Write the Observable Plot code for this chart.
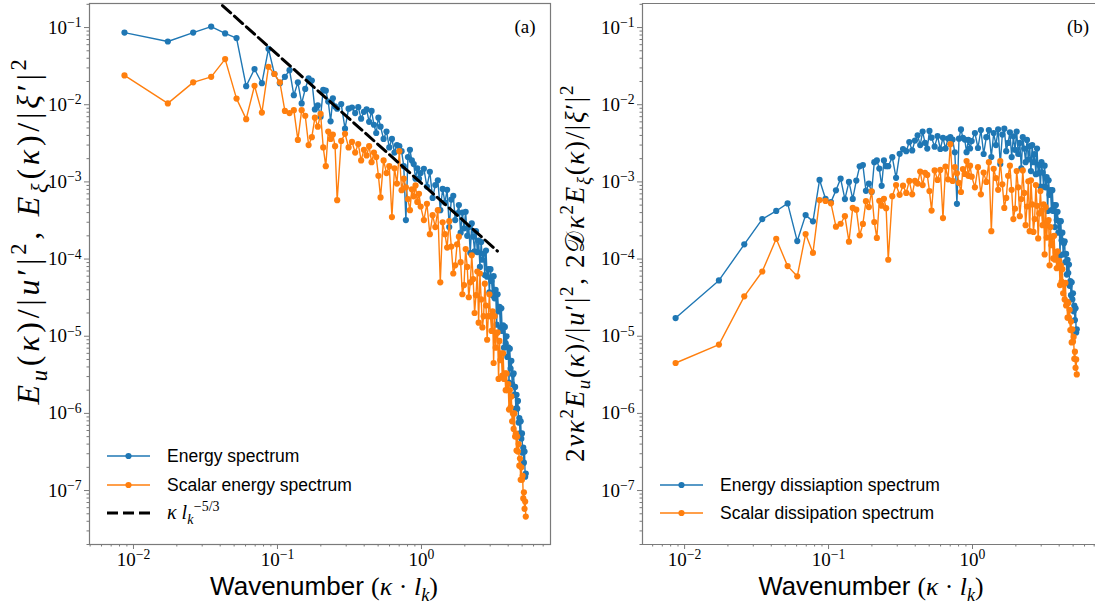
<!DOCTYPE html>
<html>
<head>
<meta charset="utf-8">
<script src="https://cdn.jsdelivr.net/npm/d3@7"></script>
<script src="https://cdn.jsdelivr.net/npm/@observablehq/plot@0.6"></script>
<style>
  html, body { margin: 0; padding: 0; background: #fff; }
  #wrap { position: relative; width: 1095px; height: 606px; overflow: hidden; background: #fff; }
  #wrap svg { position: absolute; top: 0; overflow: visible; }
</style>
</head>
<body>
<div id="wrap"></div>
<script>
// ---------------- data ----------------
const dk = 0.00866; // wavenumber step (kappa * l_k per shell)
const shellIndex = [
  1,2,3,4,5,6,7,8,9,10,11,12,13,14,15,16,17,18,19,20,21,22,23,24,25,26,27,28,29,30,
  32,34,36,38,40,42,44,46,48,50,52,54,56,58,60,
  63,66,69,72,75,78,81,84,87,90,93,96,99,102,105,108,111,114,
  120,126,132,138,144,150,156,162,168,174,180,186,192,198,204,210,216,222,228,234,
  240,246,252,258,264,270,276,282,288,294,300,306,312,318,324,330,336,342,348,354,
  360,366,372,378,384,390,396,402,408,414,420,426,432,438,444,450,456,462,468,474,
  480,486,492,498,504,510,516,522,528,534,540,546,552,558,564,570,576,582,588,594,
  600,606,612
];
const energySpectrum = [
  0.086,0.066,0.086,0.103,0.084,0.073,0.0174,0.029,0.019,0.053,0.025,0.019,0.023,0.028,0.0133,0.0195,0.0104,0.016,0.022,0.0206,0.0087,0.0098,0.007,0.0156,0.0152,0.011,0.0061,0.0121,0.0095,0.0089,
  0.0102,0.0049,0.0089,0.0092,0.0078,0.0093,0.0066,0.0081,0.0087,0.006,0.0083,0.0055,0.0043,0.0068,0.0052,
  0.0036,0.0045,0.0028,0.0036,0.0024,0.0030,0.0029,0.0025,0.0016,0.00032,0.0021,0.0026,0.0019,0.0017,0.0011,0.0015,0.0011,0.0013,
  1.48e-3,8.7e-4,1.35e-3,6.2e-4,9.1e-4,1.05e-3,4.3e-4,8.1e-4,5.4e-4,7.9e-4,
  2.6e-4,5.9e-4,6.6e-4,3.2e-4,3.9e-4,5.0e-4,2.2e-4,4.0e-4,2.5e-4,4.1e-4,
  2.0e-4,2.6e-4,1.2e-4,2.9e-4,1.95e-4,1.26e-4,2.3e-4,1.23e-4,1.74e-4,7.9e-5,
  1.66e-4,9.8e-5,1.17e-4,6.2e-5,1.29e-4,5.9e-5,7.4e-5,3.7e-5,7.4e-5,5.2e-5,
  3.4e-5,6.0e-5,3.1e-5,4.0e-5,1.41e-5,3.5e-5,2.1e-5,2.4e-5,1.29e-5,2.3e-5,
  1.17e-5,1.38e-5,7.1e-6,1.32e-5,8.1e-6,1.0e-5,5.4e-6,7.2e-6,2.5e-6,6.9e-6,
  3.8e-6,4.8e-6,2.4e-6,3.2e-6,3.3e-6,1.74e-6,2.2e-6,1.15e-6,1.74e-6,1.15e-6,
  1.45e-6,7.6e-7,8.7e-7,5.5e-7,7.9e-7,4.7e-7,5.5e-7,3.1e-7,3.6e-7,2.3e-7,
  3.2e-7,1.51e-7,1.66e-7
];
const scalarSpectrum = [
  0.024,0.0104,0.0195,0.023,0.039,0.012,0.0065,0.0176,0.0079,0.031,0.025,0.0195,0.0083,0.0078,0.0085,0.0035,0.0085,0.0072,0.003,0.0038,0.0068,0.0052,0.0076,0.0028,0.0016,0.0045,0.0036,0.0041,0.0029,0.00058,
  0.0034,0.0042,0.0028,0.0033,0.0024,0.0031,0.0019,0.0026,0.0022,0.0029,0.0018,0.0024,0.0021,0.0012,0.00063,
  0.0019,0.0013,0.0016,0.00035,0.0015,0.00095,0.0025,0.00078,0.0011,0.00085,0.0006,0.00043,0.0008,0.00065,0.0009,0.00055,0.0007,0.00048,
  3.2e-4,5.2e-4,2.1e-4,3.7e-4,2.6e-4,4.3e-4,5.0e-5,3.0e-4,2.1e-4,1.41e-4,
  3.1e-4,1.45e-4,6.5e-5,8.3e-5,1.55e-4,1.95e-4,9.1e-5,3.5e-5,4.6e-5,1.35e-4,
  7.9e-5,3.2e-5,5.0e-5,1.12e-4,5.5e-5,2.0e-5,3.4e-5,6.9e-5,1.5e-5,6.5e-5,
  3.0e-5,1.3e-5,1.82e-5,4.8e-5,2.5e-5,9.0e-6,1.82e-5,3.5e-5,1.82e-5,1.17e-5,
  2.1e-5,4.5e-6,1.82e-5,7.1e-6,1.1e-5,1.12e-5,2.8e-6,8.7e-6,4.9e-6,6.0e-6,
  3.1e-6,6.0e-6,2.8e-6,3.3e-6,2.0e-6,3.3e-6,2.0e-6,2.4e-6,1.12e-6,2.0e-6,
  1.2e-6,1.66e-6,7.9e-7,1.0e-6,6.3e-7,1.0e-6,5.0e-7,5.5e-7,3.3e-7,5.0e-7,
  3.2e-7,4.0e-7,2.1e-7,2.6e-7,1.38e-7,2.0e-7,1.38e-7,1.55e-7,7.9e-8,9.5e-8,
  5.8e-8,7.2e-8,4.6e-8
];
const energyDissipation = [
  1.72e-5,5.28e-5,1.55e-4,3.3e-4,4.2e-4,5.26e-4,1.71e-4,3.71e-4,3.08e-4,1.06e-3,6.05e-4,5.47e-4,7.77e-4,1.1e-3,5.99e-4,9.98e-4,6.01e-4,1.04e-3,1.59e-3,1.65e-3,7.67e-4,9.49e-4,7.41e-4,1.8e-3,1.9e-3,1.49e-3,8.89e-4,1.9e-3,1.6e-3,1.6e-3,
  2.09e-3,1.13e-3,2.31e-3,2.66e-3,2.5e-3,3.28e-3,2.56e-3,3.43e-3,4.01e-3,3.0e-3,4.49e-3,3.21e-3,2.7e-3,4.58e-3,3.74e-3,
  2.86e-3,3.92e-3,2.67e-3,3.73e-3,2.7e-3,3.65e-3,3.81e-3,3.53e-3,2.42e-3,5.2e-4,3.63e-3,4.79e-3,3.72e-3,3.54e-3,2.43e-3,3.5e-3,2.71e-3,3.38e-3,
  4.3e-3,2.75e-3,4.7e-3,2.3e-3,3.8e-3,4.7e-3,2.1e-3,4.3e-3,3.0e-3,4.8e-3,
  1.7e-3,4.1e-3,4.9e-3,2.5e-3,3.2e-3,4.4e-3,2.1e-3,3.9e-3,2.6e-3,4.5e-3,
  2.3e-3,3.2e-3,1.5e-3,3.8e-3,2.7e-3,1.8e-3,3.5e-3,1.95e-3,2.9e-3,1.38e-3,
  3.0e-3,1.8e-3,2.3e-3,1.26e-3,2.7e-3,1.29e-3,1.66e-3,8.7e-4,1.8e-3,1.32e-3,
  8.7e-4,1.62e-3,8.5e-4,1.15e-3,4.2e-4,1.05e-3,6.8e-4,7.8e-4,4.3e-4,7.8e-4,
  4.2e-4,5.0e-4,2.6e-4,5.0e-4,3.2e-4,4.1e-4,2.2e-4,3.1e-4,1.1e-4,3.1e-4,
  1.74e-4,2.2e-4,1.15e-4,1.6e-4,1.7e-4,9.1e-5,1.17e-4,6.3e-5,9.8e-5,6.6e-5,
  8.5e-5,4.5e-5,5.2e-5,3.4e-5,5.0e-5,3.0e-5,3.6e-5,2.1e-5,2.5e-5,1.62e-5,
  2.3e-5,1.12e-5,1.23e-5
];
const scalarDissipation = [
  4.5e-6,7.8e-6,3.29e-5,6.9e-5,1.83e-4,8.1e-5,5.97e-5,2.11e-4,1.2e-4,5.81e-4,5.67e-4,5.27e-4,2.63e-4,2.87e-4,3.59e-4,1.68e-4,4.6e-4,4.37e-4,2.03e-4,2.85e-4,5.62e-4,4.72e-4,7.54e-4,3.02e-4,1.88e-4,5.7e-4,4.92e-4,6.03e-4,4.57e-4,9.8e-5,
  6.53e-4,9.1e-4,6.8e-4,8.93e-4,7.2e-4,1.03e-3,6.9e-4,1.03e-3,9.5e-4,1.36e-3,9.1e-4,1.31e-3,1.23e-3,7.6e-4,4.25e-4,
  1.41e-3,1.06e-3,1.43e-3,3.4e-4,1.58e-3,1.08e-3,3.08e-3,1.03e-3,1.56e-3,1.29e-3,9.7e-4,7.4e-4,1.47e-3,1.27e-3,1.86e-3,1.2e-3,1.62e-3,1.17e-3,
  8.5e-4,1.55e-3,6.9e-4,1.32e-3,1.0e-3,1.8e-3,2.3e-4,1.48e-3,1.12e-3,7.9e-4,
  1.86e-3,9.3e-4,4.6e-4,6.2e-4,1.2e-3,1.62e-3,7.9e-4,3.3e-4,4.5e-4,1.38e-3,
  8.5e-4,3.6e-4,6.0e-4,1.41e-3,7.2e-4,2.75e-4,4.8e-4,1.02e-3,2.3e-4,1.05e-3,
  5.1e-4,2.25e-4,3.3e-4,9.1e-4,4.9e-4,1.85e-4,3.9e-4,7.6e-4,4.2e-4,2.75e-4,
  5.1e-4,1.15e-4,4.7e-4,1.9e-4,3.0e-4,3.2e-4,8.3e-5,2.6e-4,1.51e-4,1.95e-4,
  1.02e-4,2.0e-4,9.8e-5,1.2e-4,7.6e-5,1.26e-4,7.9e-5,9.5e-5,4.6e-5,8.3e-5,
  5.1e-5,7.4e-5,3.6e-5,4.7e-5,3.0e-5,4.9e-5,2.5e-5,2.8e-5,1.74e-5,2.7e-5,
  1.74e-5,2.2e-5,1.2e-5,1.55e-5,8.3e-6,1.23e-5,8.5e-6,9.8e-6,5.1e-6,6.3e-6,
  3.9e-6,5.0e-6,3.2e-6
];
// reference -5/3 power law (endpoints in kappa, and its level at kappa = 1)
const refKappa = [0.0415, 3.37];
const refLevel = 9.6e-4;
const refExponent = -5 / 3;

const leftLegend = ["Energy spectrum", "Scalar energy spectrum"];
const rightLegend = ["Energy dissiaption spectrum", "Scalar dissipation spectrum"];
const panelTags = ["(a)", "(b)"];
const majorX = [0.01, 0.1, 1];
const majorY = [1e-7, 1e-6, 1e-5, 1e-4, 1e-3, 1e-2, 1e-1];

// ---------------- helpers ----------------
const BLUE = "#1f77b4", ORANGE = "#ff7f0e", FRAME = "#7a7a7a";
const SERIF = "'Liberation Serif', 'DejaVu Serif', serif";
const SANS = "'Liberation Sans', 'DejaVu Sans', sans-serif";

const kappa = shellIndex.map(n => n * dk);
const toRows = vals => kappa.map((k, i) => ({k, v: vals[i]}));
const refRows = refKappa.map(k => ({k, v: refLevel * Math.pow(k, refExponent)}));

function minorTicks(lo, hi, e0, e1) {
  const out = [];
  for (let e = e0; e <= e1; e++) for (let m = 2; m <= 9; m++) {
    const v = m * Math.pow(10, e);
    if (v >= lo && v <= hi) out.push(v);
  }
  return out;
}
const fmt = d => "10^" + Math.round(Math.log10(d));

function axes(xDom, yDom) {
  return [
    Plot.axisX(minorTicks(xDom[0], xDom[1], -3, 1), {tickSize: 2.5, stroke: FRAME, fill: "none", label: null}),
    Plot.axisX(majorX, {tickSize: 5, tickPadding: 3, stroke: FRAME, tickFormat: fmt, label: null, fill: "black"}),
    Plot.axisY(minorTicks(yDom[0], yDom[1], -9, -1), {tickSize: 2.5, stroke: FRAME, fill: "none", label: null}),
    Plot.axisY(majorY, {tickSize: 5, tickPadding: 3, stroke: FRAME, tickFormat: fmt, label: null, fill: "black"})
  ];
}
function series(vals, color) {
  const rows = toRows(vals);
  return [
    Plot.line(rows, {x: "k", y: "v", stroke: color, strokeWidth: 1.4}),
    Plot.dot(rows, {x: "k", y: "v", fill: color, r: 3.1})
  ];
}
const styleObj = {background: "transparent", fontFamily: SERIF, fontSize: "19px", color: "black", overflow: "visible"};

function supLabels(svg) {
  d3.select(svg).selectAll('g[aria-label$="tick label"] text').each(function () {
    const m = /^10\^([−-]?\d+)$/.exec(this.textContent.trim());
    if (!m) return;
    const el = d3.select(this);
    el.text(null);
    el.append("tspan").text("10");
    el.append("tspan").attr("dy", "-0.48em").attr("font-size", "0.72em").text(m[1].replace("-", "−"));
  });
}

function addMath(g, segs, F) {
  const t = g.append("text").attr("font-family", SERIF).attr("font-size", F)
    .attr("fill", "#000").attr("text-anchor", "start");
  let cur = 0;
  for (const s of segs) {
    const small = s.sub || s.sup;
    const size = small ? 0.7 * F : F;
    const target = s.sub ? 0.24 * F : s.sup ? -0.42 * F : 0;
    const ts = t.append("tspan").attr("font-size", size).text(s.t);
    if (target !== cur) { ts.attr("dy", target - cur); cur = target; }
    if (s.dx) ts.attr("dx", s.dx * F);
    if (s.i) ts.attr("font-style", "italic");
    if (s.sans) ts.attr("font-family", SANS);
  }
  return t;
}
function fittedMath(g, segs, length, F0) {
  let t = addMath(g, segs, F0);
  const w = t.node().getBBox().width;
  t.remove();
  return addMath(g, segs, F0 * length / w);
}
// fixed font size; the remaining length is made up with letter spacing
function spacedMath(g, segs, length, F) {
  const t = addMath(g, segs, F);
  const w = t.node().getBBox().width;
  const n = segs.reduce((a, s) => a + [...s.t].length, 0);
  t.attr("letter-spacing", Math.max(0, (length - w) / n));
  return t;
}

// ---------------- plots ----------------
const wrap = document.getElementById("wrap");
const yDom = [2.0e-8, 0.205];
const xDomL = [0.00495, 7.87];
const xDomR = [0.0051, 7.15];

const left = Plot.plot({
  width: 560, height: 606,
  marginLeft: 89, marginRight: 10, marginTop: 3, marginBottom: 62,
  x: {type: "log", domain: xDomL},
  y: {type: "log", domain: yDom},
  style: styleObj,
  marks: [
    ...axes(xDomL, yDom),
    ...series(energySpectrum, BLUE),
    ...series(scalarSpectrum, ORANGE),
    Plot.line(refRows, {x: "k", y: "v", stroke: "black", strokeWidth: 3, strokeDasharray: "11,5"}),
    Plot.frame({stroke: FRAME, strokeWidth: 1.2})
  ]
});
left.style.left = "0px";
wrap.appendChild(left);

const right = Plot.plot({
  width: 535, height: 606,
  marginLeft: 82, marginRight: 0, marginTop: 3, marginBottom: 62,
  x: {type: "log", domain: xDomR},
  y: {type: "log", domain: yDom},
  style: styleObj,
  marks: [
    ...axes(xDomR, yDom),
    ...series(energyDissipation, BLUE),
    ...series(scalarDissipation, ORANGE),
    Plot.ruleX([xDomR[0]], {stroke: FRAME, strokeWidth: 1.2}),
    Plot.ruleY(yDom, {stroke: FRAME, strokeWidth: 1.2})
  ]
});
right.style.left = "560px";
wrap.appendChild(right);

supLabels(left);
supLabels(right);

// ---------------- labels ----------------
const xLabelSegs = [
  {t: "Wavenumber ", sans: true}, {t: "("}, {t: "κ", i: true}, {t: " · "},
  {t: "l", i: true}, {t: "k", i: true, sub: true}, {t: ")"}
];
const leftYSegs = [
  {t: "E", i: true}, {t: "u", i: true, sub: true}, {t: "("}, {t: "κ", i: true}, {t: ")/|"},
  {t: "u", i: true}, {t: "′"}, {t: "|"}, {t: "2", sup: true}, {t: ", "},
  {t: "E", i: true}, {t: "ξ", i: true, sub: true}, {t: "("}, {t: "κ", i: true}, {t: ")/|"},
  {t: "ξ", i: true}, {t: "′"}, {t: "|"}, {t: "2", sup: true}
];
const rightYSegs = [
  {t: "2"}, {t: "νκ", i: true}, {t: "2", sup: true}, {t: "E", i: true}, {t: "u", i: true, sub: true},
  {t: "("}, {t: "κ", i: true}, {t: ")/|"}, {t: "u", i: true}, {t: "′"}, {t: "|"}, {t: "2", sup: true},
  {t: ", 2"}, {t: "𝒟"}, {t: "κ", i: true}, {t: "2", sup: true}, {t: "E", i: true}, {t: "ξ", i: true, sub: true},
  {t: "("}, {t: "κ", i: true}, {t: ")/|"}, {t: "ξ", i: true}, {t: "′"}, {t: "|"}, {t: "2", sup: true}
];

const gl = d3.select(left).append("g");
const gr = d3.select(right).append("g");

fittedMath(gl, xLabelSegs, 228, 25).attr("text-anchor", "middle").attr("x", 324).attr("y", 595);
fittedMath(gr, xLabelSegs, 225, 25).attr("text-anchor", "middle").attr("x", 311).attr("y", 595);
spacedMath(gl, leftYSegs, 350, 32).attr("text-anchor", "middle").attr("transform", "translate(39,230) rotate(-90)");
spacedMath(gr, rightYSegs, 378, 27).attr("text-anchor", "middle").attr("transform", "translate(24,273) rotate(-90)");

// panel tags
gl.append("text").attr("x", 525).attr("y", 33).attr("text-anchor", "middle")
  .attr("font-family", SERIF).attr("font-size", 19).text(panelTags[0]);
gr.append("text").attr("x", 1078 - 560).attr("y", 33).attr("text-anchor", "middle")
  .attr("font-family", SERIF).attr("font-size", 19).text(panelTags[1]);

// legends
function legendRow(g, x0, y, color, label) {
  g.append("line").attr("x1", x0).attr("x2", x0 + 43).attr("y1", y).attr("y2", y)
    .attr("stroke", color).attr("stroke-width", 1.4);
  g.append("circle").attr("cx", x0 + 21.5).attr("cy", y).attr("r", 3.1).attr("fill", color);
  g.append("text").attr("x", x0 + 60).attr("y", y).attr("dy", "0.36em").attr("text-anchor", "start")
    .attr("font-family", SANS).attr("font-size", 17.5).attr("fill", "#000").text(label);
}
legendRow(gl, 107, 456, BLUE, leftLegend[0]);
legendRow(gl, 107, 485, ORANGE, leftLegend[1]);
gl.append("line").attr("x1", 107).attr("x2", 150).attr("y1", 513).attr("y2", 513)
  .attr("stroke", "black").attr("stroke-width", 3).attr("stroke-dasharray", "11,5");
addMath(gl, [
  {t: "κ", i: true}, {t: " "}, {t: "l", i: true}, {t: "k", i: true, sub: true},
  {t: "−5/3", sup: true, dx: 0.02}
], 20).attr("x", 167).attr("y", 519);

legendRow(gr, 660 - 560, 485, BLUE, rightLegend[0]);
legendRow(gr, 660 - 560, 513, ORANGE, rightLegend[1]);
</script>
</body>
</html>
